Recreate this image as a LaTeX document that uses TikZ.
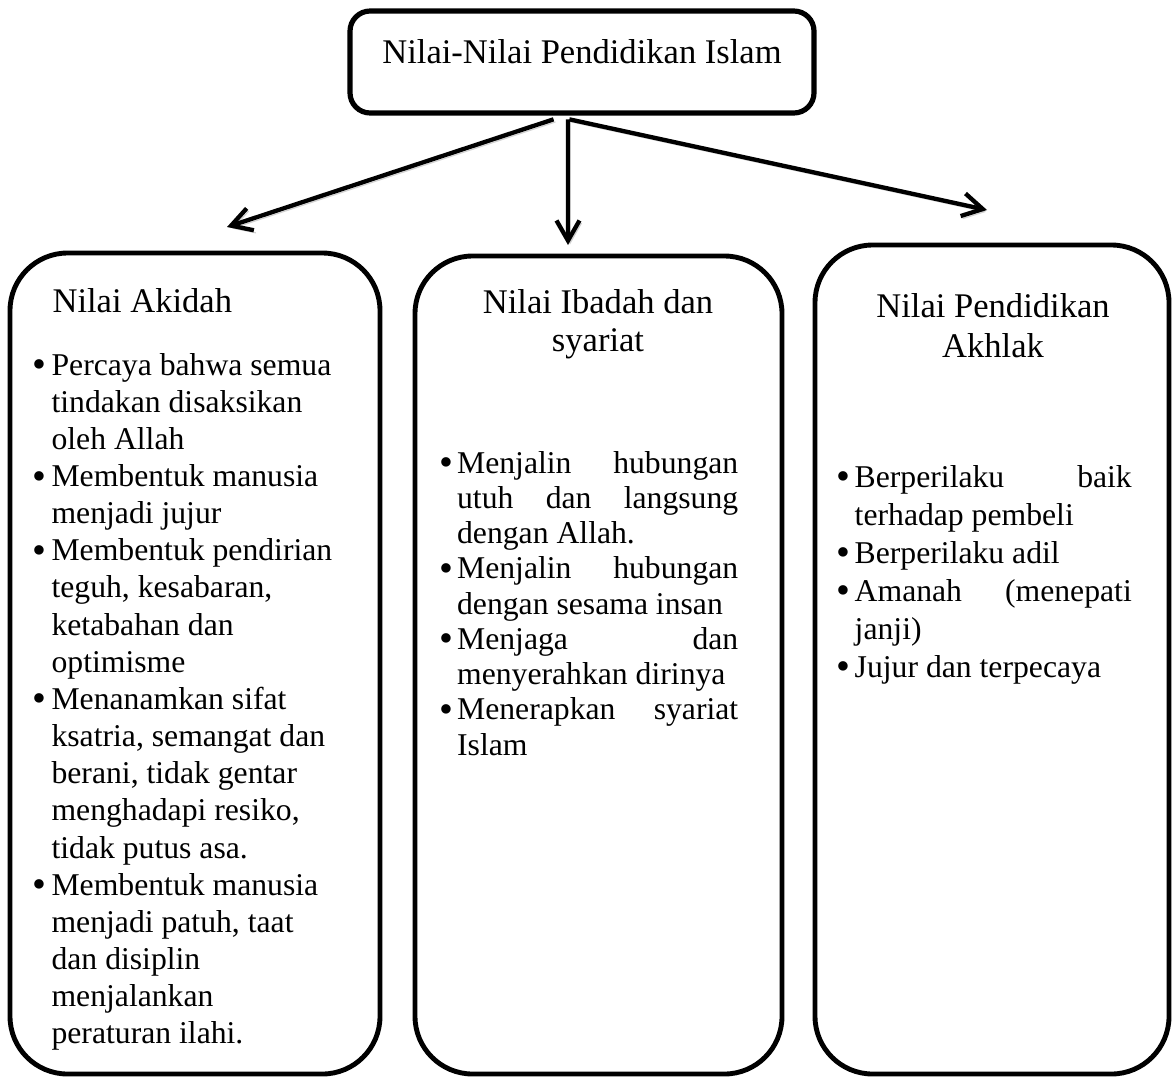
\documentclass[tikz,border=0pt]{standalone}
\usepackage{fontspec}
\setmainfont{Liberation Serif}
\usepackage{array}
\usepackage{graphicx}
\usetikzlibrary{arrows.meta,positioning,fit,calc}
\newcommand{\bul}{\raisebox{-0.08em}{\scalebox{1.25}{\textbullet}}}

\begin{document}
\begin{tikzpicture}[
      x=0.3472pt,y=-0.3472pt,
      colbox/.style={draw,line width=1.7pt,rounded corners=20pt,inner sep=0pt},
      titlebox/.style={draw,line width=1.8pt,rounded corners=7pt,inner sep=0pt},
      head/.style={inner sep=0pt,font=\fontsize{12}{13.8}\selectfont},
      list/.style={inner sep=0pt,anchor=base west},
      arrow/.style={-{Straight Barb[length=7pt,width=8pt]},line width=1.5pt,
        preaction={draw=black!18,transform canvas={shift={(0.7pt,-0.9pt)}}}}
    ]
      \useasboundingbox (0,0) rectangle (1173,1076);
      \clip (0,0) rectangle (1173,1076);
      \node[titlebox,fit={(350,11) (814,113)}] (root) {};
      \node[head,anchor=base] (roottext) at (582,63) {Nilai-Nilai Pendidikan Islam};

      \node[colbox,fit={(10,253) (380,1074)}] (akidah) {};
      \node[colbox,fit={(415,256) (782,1074)}] (ibadah) {};
      \node[colbox,fit={(815,245) (1169,1074)}] (akhlak) {};

      \node[head,anchor=base west] (akidahhead) at (52,312) {Nilai Akidah};
      \node[head,anchor=base,font=\fontsize{12}{13.5}\selectfont] (ibadahhead) at (598,313)
        {\begin{tabular}[t]{@{}c@{}}Nilai Ibadah dan\\syariat\end{tabular}};
      \node[head,anchor=base,font=\fontsize{12}{14.2}\selectfont] (akhlakhead) at (993,317)
        {\begin{tabular}[t]{@{}c@{}}Nilai Pendidikan\\Akhlak\end{tabular}};

      \node[list,font=\fontsize{11}{12.9}\selectfont] (akidahlist) at (32,375)
        {\begin{tabular}[t]{@{}p{6.6pt}@{}>{\raggedright\arraybackslash}p{110pt}@{}}
          \bul & Percaya bahwa semua\\
               & tindakan disaksikan\\
               & oleh Allah\\
          \bul & Membentuk manusia\\
               & menjadi jujur\\
          \bul & Membentuk pendirian\\
               & teguh, kesabaran,\\
               & ketabahan dan\\
               & optimisme\\
          \bul & Menanamkan sifat\\
               & ksatria, semangat dan\\
               & berani, tidak gentar\\
               & menghadapi resiko,\\
               & tidak putus asa.\\
          \bul & Membentuk manusia\\
               & menjadi patuh, taat\\
               & dan disiplin\\
               & menjalankan\\
               & peraturan ilahi.\\
        \end{tabular}};
      \node[list,font=\fontsize{11}{12.24}\selectfont] (ibadahlist) at (439,473)
        {\begin{tabular}[t]{@{}p{6.1pt}@{}p{97.6pt}@{}}
          \bul & Menjalin\hfill hubungan\\
               & utuh\hfill dan\hfill langsung\\
               & dengan Allah.\\
          \bul & Menjalin\hfill hubungan\\
               & dengan sesama insan\\
          \bul & Menjaga\hfill dan\\
               & menyerahkan dirinya\\
          \bul & Menerapkan\hfill syariat\\
               & Islam\\
        \end{tabular}};
      \node[list,font=\fontsize{11}{13.2}\selectfont] (akhlaklist) at (836,487)
        {\begin{tabular}[t]{@{}p{6.3pt}@{}p{96.2pt}@{}}
          \bul & Berperilaku\hfill baik\\
               & terhadap pembeli\\
          \bul & Berperilaku adil\\
          \bul & Amanah\hfill (menepati\\
               & janji)\\
          \bul & Jujur dan terpecaya\\
        \end{tabular}};

      \coordinate (fork) at ([yshift=-1.3pt]$(root.south west)!.47!(root.south east)$);
      \coordinate (tipL) at (227,227);
      \coordinate (tipM) at (568,245);
      \coordinate (tipR) at (987,210);
      \draw[arrow] ([xshift=-5pt]fork) -- (tipL);
      \draw[arrow] (fork) -- (tipM);
      \draw[arrow] ([xshift=0.5pt]fork) -- (tipR);
    \end{tikzpicture}
\end{document}
